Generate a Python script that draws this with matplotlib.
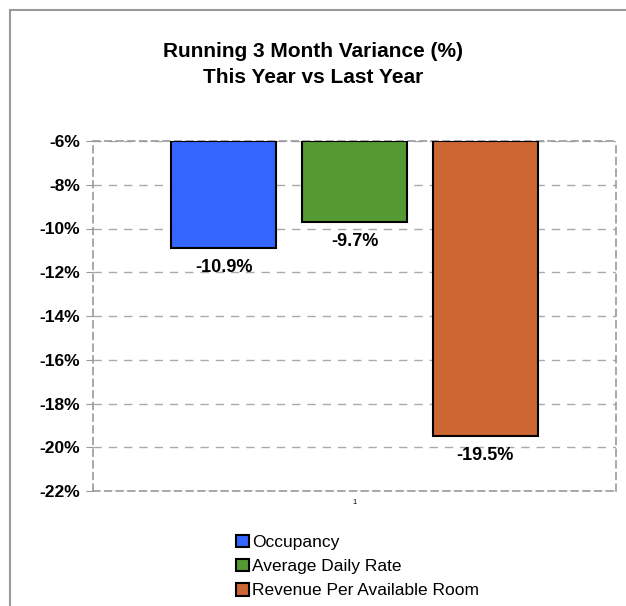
import matplotlib
matplotlib.use("Agg")
import matplotlib.pyplot as plt
from matplotlib.patches import Rectangle, Patch

categories = ["Occupancy", "Average Daily Rate", "Revenue Per Available Room"]
values = [-10.9, -9.7, -19.5]
colors = ["#3366FF", "#559933", "#CC6633"]
yticks = [-6, -8, -10, -12, -14, -16, -18, -20, -22]
title_lines = ["Running 3 Month Variance (%)", "This Year vs Last Year"]

plt.rcParams['font.family'] = ['Liberation Sans', 'DejaVu Sans']

W, H = 626, 606
fig = plt.figure(figsize=(W / 100, H / 100), dpi=100)
fig.patches.append(Rectangle((10 / W, -0.1), 2.0, 1 - 10 / H + 0.1,
                             transform=fig.transFigure, fill=False,
                             edgecolor="#999999", linewidth=1.5))

ax = fig.add_axes([93 / W, 1 - 491 / H, (616 - 93) / W, (491 - 141) / H])
base = -6
xs = [0, 1, 2]
for x, v, c in zip(xs, values, colors):
    ax.bar(x, v - base, bottom=base, width=0.8, color=c, edgecolor="black",
           linewidth=1.5, zorder=3)
    ax.text(x, v - 0.5, f"{v:.1f}%", ha="center", va="top",
            fontsize=13, fontweight="bold", zorder=4)

ax.set_ylim(-22, -6)
ax.set_xlim(-1.0, 3.0)
ax.set_yticks(yticks)
ax.set_yticklabels([f"{t}%" for t in yticks], fontsize=12.5, fontweight="bold")
ax.set_xticks([1])
ax.set_xticklabels(["1"], fontsize=5.5)
ax.tick_params(axis="x", length=0, pad=6)
ax.tick_params(axis="y", length=5, color="#999999", pad=4)
ax.yaxis.grid(True, linestyle=(0, (6, 5)), color="#AAAAAA", linewidth=1, zorder=0)
for s in ax.spines.values():
    s.set_linestyle((0, (4, 3)))
    s.set_color("#999999")
    s.set_linewidth(1.2)

fig.text(0.5, 1 - 57 / H, title_lines[0], ha="center", va="baseline",
         fontsize=15, fontweight="bold")
fig.text(0.5, 1 - 83 / H, title_lines[1], ha="center", va="baseline",
         fontsize=15, fontweight="bold")

handles = [Patch(facecolor=c, edgecolor="black", linewidth=1.5) for c in colors]
fig.legend(handles, categories, loc="upper left",
           bbox_to_anchor=(227 / W, 1 - 526 / H), frameon=False,
           fontsize=12.5, handlelength=0.75, handleheight=0.75,
           handletextpad=0.2, labelspacing=0.5, borderpad=0)

fig.savefig("out.png", dpi=100)
